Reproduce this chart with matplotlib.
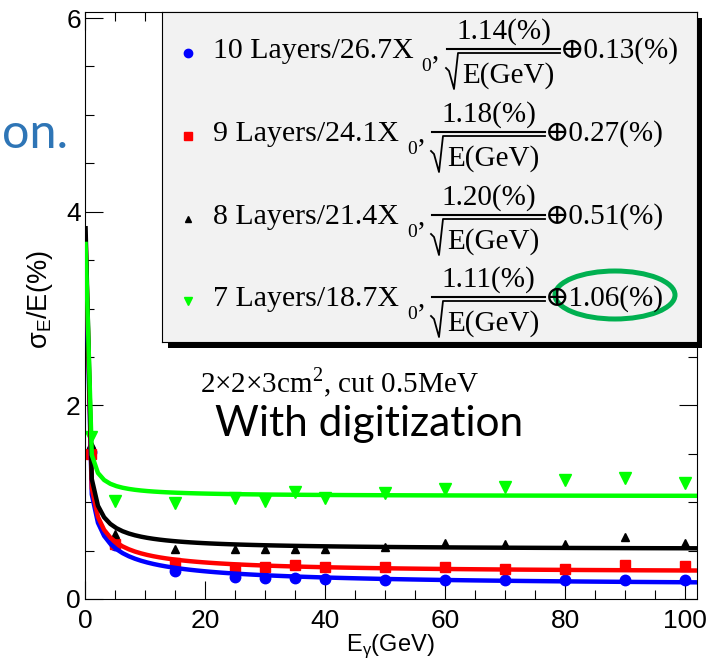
import numpy as np
import matplotlib
matplotlib.use("Agg")
import matplotlib.pyplot as plt
from matplotlib.ticker import MultipleLocator
from matplotlib.patches import Rectangle, Ellipse

plt.rcParams['font.family'] = ['Liberation Sans', 'DejaVu Sans']

# measured points (E in GeV, sigma_E/E in %)
energy = [1, 5, 15, 25, 30, 35, 40, 50, 60, 70, 80, 90, 100]
res_10 = [1.52, 0.56, 0.29, 0.23, 0.22, 0.22, 0.21, 0.20, 0.20, 0.20, 0.20, 0.20, 0.20]
res_9 = [1.50, 0.57, 0.37, 0.32, 0.33, 0.35, 0.33, 0.33, 0.33, 0.31, 0.31, 0.35, 0.34]
res_8 = [1.60, 0.67, 0.52, 0.52, 0.52, 0.52, 0.52, 0.54, 0.58, 0.57, 0.57, 0.64, 0.58]
res_7 = [1.67, 1.01, 0.99, 1.04, 1.01, 1.10, 1.04, 1.09, 1.14, 1.16, 1.23, 1.25, 1.20]

# fit results a/sqrt(E) (+) b
layers = ["10 Layers/26.7X", "9 Layers/24.1X", "8 Layers/21.4X", "7 Layers/18.7X"]
stoch = [1.14, 1.18, 1.20, 1.11]
const = [0.13, 0.27, 0.51, 1.06]

series = [res_10, res_9, res_8, res_7]
colors = ["#0000ff", "#ff0000", "#000000", "#00ff00"]
markers = ["o", "s", "^", "v"]
msizes = [7.5, 7, 6, 8]
leg_msizes = [6, 6, 5, 6]

W, H = 711, 664


def fx(px):
    return px / W


def fy(py):
    return 1 - py / H


fig = plt.figure(figsize=(W / 100, H / 100), dpi=100)
ax = fig.add_axes([fx(85), fy(599), 612 / W, 587 / H])

e_fit = np.linspace(0.1, 102, 100)
for vals, a, b, c, m, ms in zip(series, stoch, const, colors, markers, msizes):
    ax.plot(energy, vals, ls="none", marker=m, ms=ms, color=c, mec=c, zorder=2)
    ax.plot(e_fit, np.sqrt(a ** 2 / e_fit + b ** 2), color=c, lw=3.2, zorder=3)

ax.set_xlim(0, 102)
ax.set_ylim(0, 6.062)
ax.set_xticks([0, 20, 40, 60, 80, 100])
ax.set_yticks([0, 2, 4, 6])
ax.xaxis.set_minor_locator(MultipleLocator(5))
ax.yaxis.set_minor_locator(MultipleLocator(0.5))
ax.tick_params(which="both", direction="in", top=True, right=True,
               width=0.8, labelsize=19)
ax.tick_params(which="major", length=13)
ax.tick_params(which="minor", length=6.5)
ax.tick_params(axis="x", pad=7)
ax.tick_params(axis="y", pad=3)
for sp in ax.spines.values():
    sp.set_linewidth(0.8)

fig.text(fx(40), fy(300), "σ$_\\mathregular{E}$/E(%)", rotation=90,
         ha="center", va="center", fontsize=19.5)
fig.text(fx(390), fy(646), "E$_\\mathregular{γ}$(GeV)", ha="center",
         va="center", fontsize=17)

# legend box (ROOT style, with shadow)
shadow = Rectangle((fx(168), fy(348)), 534 / W, 330 / H, transform=fig.transFigure,
                   facecolor="black", edgecolor="none", zorder=0.5)
fig.add_artist(shadow)
lax = fig.add_axes([fx(162), fy(342), 535 / W, 330 / H], zorder=1)
lax.set_facecolor("#f2f2f2")
lax.set_xlim(0, 535)
lax.set_ylim(330, 0)
lax.set_xticks([])
lax.set_yticks([])
for sp in lax.spines.values():
    sp.set_linewidth(0.8)

serif = ["Liberation Serif", "DejaVu Serif"]
baselines = [46, 129, 212, 294]
for i, (lab, a, b) in enumerate(zip(layers, stoch, const)):
    B = baselines[i]
    lax.plot(26, B - 5, marker=markers[i], ms=leg_msizes[i], color=colors[i],
             mec=colors[i], ls="none")
    lax.text(51, B, lab, family=serif, fontsize=21.5, va="baseline", ha="left")
    x0 = 285 if i == 0 else 270
    sub_x = 259 if i == 0 else 245
    lax.text(sub_x, B + 13, "0", family=serif, fontsize=14, va="baseline")
    lax.text(sub_x + 11, B, ",", family=serif, fontsize=21, va="baseline")
    x1 = x0 + 113
    lax.plot([x0, x1], [B - 9, B - 9], color="black", lw=1.5)
    lax.text((x0 + x1) / 2, B - 19, f"{a:.2f}(%)", family=serif, fontsize=21,
             ha="center", va="baseline")
    lax.plot([x0 - 1, x0 + 2, x0 + 7, x0 + 11, x1],
             [B + 10, B + 13, B + 31, B - 5, B - 5], color="black", lw=1.3)
    lax.text(x0 + 15, B + 25, "E(GeV)", family=serif, fontsize=21, va="baseline")
    lax.text(x1, B, f"⊕{b:.2f}(%)", family=serif, fontsize=21, va="baseline")

lax.add_patch(Ellipse((453, 283), 120, 48, facecolor="none", edgecolor="#00b050",
                      lw=3.6, clip_on=False))

fig.text(fx(200), fy(393), "2×2×3cm$^\\mathregular{2}$, cut 0.5MeV", family=serif,
         fontsize=21, va="baseline")
fig.text(fx(215), fy(436), "With digitization", family=["Lato", "DejaVu Sans"],
         fontsize=30.5, va="baseline")
fig.text(fx(2), fy(148), "on.", family=["Lato", "DejaVu Sans"], fontsize=35,
         va="baseline", color="#2e75b6")

fig.savefig("out.png", dpi=100)
